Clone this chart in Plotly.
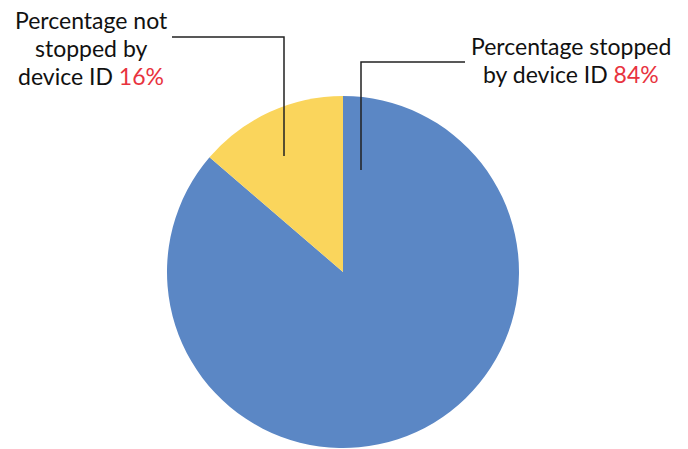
import plotly.graph_objects as go

labels = ["Percentage stopped by device ID", "Percentage not stopped by device ID"]
slice_values = [86.3, 13.7]   # slice sizes as drawn in the picture
pct_labels = [84, 16]         # percentages printed in the labels
colors = ["#5B87C5", "#FAD55C"]
label_lines = [["Percentage stopped", "by device ID"], ["Percentage not", "stopped by", "device ID"]]

W, H = 688, 449
FONT = "Lato, Open Sans, sans-serif"
RED = "#E8333E"

fig = go.Figure(go.Pie(
    labels=labels, values=slice_values, sort=False, direction="clockwise", rotation=0,
    marker=dict(colors=colors, line=dict(width=0)),
    textinfo="none", hoverinfo="label",
    domain=dict(x=[167/W, 519/W], y=[1-448/H, 1-96/H]),
    showlegend=False,
))

def px(x):
    return x / W

def py(y):
    return 1 - y / H

def add_block(lines, pct, cx, ys):
    for i, (ln, y) in enumerate(zip(lines, ys)):
        t = ln
        if i == len(lines) - 1:
            t = ln + f" <span style='color:{RED}'>{pct}%</span>"
        fig.add_annotation(x=px(cx), y=py(y), xref="paper", yref="paper",
                           xanchor="center", yanchor="middle",
                           text=t, showarrow=False, align="center",
                           font=dict(family=FONT, size=23, color="#111"))

add_block(label_lines[0], pct_labels[0], 571, [46, 74])
add_block(label_lines[1], pct_labels[1], 91, [20, 48, 76])

line = dict(color="#222", width=1.5)
fig.add_shape(type="path", xref="paper", yref="paper",
              path=f"M {px(172)} {py(37)} L {px(284)} {py(37)} L {px(284)} {py(156)}", line=line)
fig.add_shape(type="path", xref="paper", yref="paper",
              path=f"M {px(465)} {py(62)} L {px(361)} {py(62)} L {px(361)} {py(170)}", line=line)

fig.update_layout(width=W, height=H, margin=dict(l=0, r=0, t=0, b=0),
                  paper_bgcolor="white", plot_bgcolor="white")
fig.write_html("out.html", config={"displayModeBar": False},
               post_script="document.body.style.margin='0';document.body.style.overflow='hidden';")
